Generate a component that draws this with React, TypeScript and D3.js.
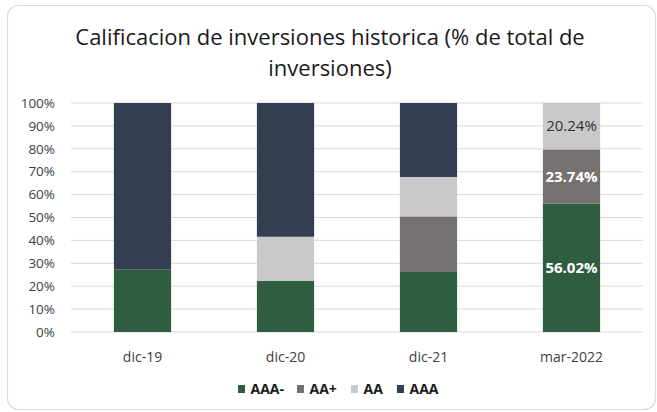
import React from "react";
import * as d3 from "d3";

const categories = ["dic-19", "dic-20", "dic-21", "mar-2022"];
const seriesNames = ["AAA-", "AA+", "AA", "AAA"];
const aaaMinus = [27.2, 22.3, 26.2, 56.02];
const aaPlus = [0, 0, 24.3, 23.74];
const aa = [0, 19.3, 17.2, 20.24];
const aaa = [72.8, 58.4, 32.3, 0];
const yTicks = [0, 10, 20, 30, 40, 50, 60, 70, 80, 90, 100];
const labelledCategory = "mar-2022";
const colors = ["#2E5E3F", "#767171", "#C9C9C9", "#333F50"];
const labelColors = ["#FFFFFF", "#FFFFFF", "#333333", "#FFFFFF"];
const labelWeights = [700, 700, 400, 700];

const W = 657;
const H = 412;
const margin = { left: 71, right: 14, top: 103, bottom: 80 };
const FONT = "'Open Sans', Calibri, sans-serif";

export default function App() {
  const seriesValues = [aaaMinus, aaPlus, aa, aaa];
  const rows = categories.map((c, i) => {
    const r: any = { cat: c };
    seriesNames.forEach((s, k) => (r[s] = seriesValues[k][i]));
    return r;
  });
  const stack = d3.stack<any>().keys(seriesNames)(rows);

  const x = d3
    .scaleBand<string>()
    .domain(categories)
    .range([margin.left, W - margin.right])
    .paddingInner(0.6)
    .paddingOuter(0.3);
  const y = d3.scaleLinear().domain([0, 100]).range([332, margin.top]);

  const legendX = [238, 297, 351, 397];

  return (
    <svg
      width={W}
      height={H}
      style={{ position: "absolute", left: 0, top: 0, background: "#fff" }}
      fontFamily={FONT}
    >
      <rect x={0} y={0} width={W} height={H} fill="#fff" />
      <rect
        x={7.5}
        y={5.5}
        width={W - 9}
        height={H - 8}
        rx={11}
        fill="none"
        stroke="#DCDCDC"
        strokeWidth={1.2}
      />
      <text x={330} y={45} textAnchor="middle" fontSize={22} fill="#1a1a1a">
        Calificacion de inversiones historica (% de total de
      </text>
      <text x={330} y={76} textAnchor="middle" fontSize={22} fill="#1a1a1a">
        inversiones)
      </text>

      {yTicks.map((t) => (
        <g key={t}>
          <line
            x1={margin.left}
            x2={W - margin.right}
            y1={y(t)}
            y2={y(t)}
            stroke="#D9D9D9"
            strokeWidth={1}
          />
          <text
            x={55}
            y={y(t)}
            dy="0.35em"
            textAnchor="end"
            fontSize={13.5}
            fill="#404040"
          >
            {t}%
          </text>
        </g>
      ))}

      {stack.map((layer, k) => (
        <g key={layer.key} fill={colors[k]}>
          {layer.map((d: any, i: number) =>
            d[1] - d[0] > 0 ? (
              <rect
                key={i}
                x={x(d.data.cat)}
                width={x.bandwidth()}
                y={y(d[1])}
                height={y(d[0]) - y(d[1])}
              />
            ) : null
          )}
        </g>
      ))}

      {stack.map((layer, k) =>
        layer.map((d: any, i: number) =>
          d.data.cat === labelledCategory && d[1] - d[0] > 0 ? (
            <text
              key={layer.key + i}
              x={(x(d.data.cat) as number) + x.bandwidth() / 2}
              y={y((d[0] + d[1]) / 2)}
              dy="0.35em"
              textAnchor="middle"
              fontSize={15}
              fontWeight={labelWeights[k]}
              fill={labelColors[k]}
            >
              {(d[1] - d[0]).toFixed(2)}%
            </text>
          ) : null
        )
      )}

      {categories.map((c) => (
        <text
          key={c}
          x={(x(c) as number) + x.bandwidth() / 2}
          y={362}
          textAnchor="middle"
          fontSize={14}
          fill="#404040"
        >
          {c}
        </text>
      ))}

      {seriesNames.map((s, k) => (
        <g key={s}>
          <rect x={legendX[k]} y={385} width={7} height={8} fill={colors[k]} />
          <text
            x={legendX[k] + 12.5}
            y={389}
            dy="0.37em"
            fontSize={14}
            fontWeight={700}
            fill="#1a1a1a"
          >
            {s}
          </text>
        </g>
      ))}
    </svg>
  );
}
